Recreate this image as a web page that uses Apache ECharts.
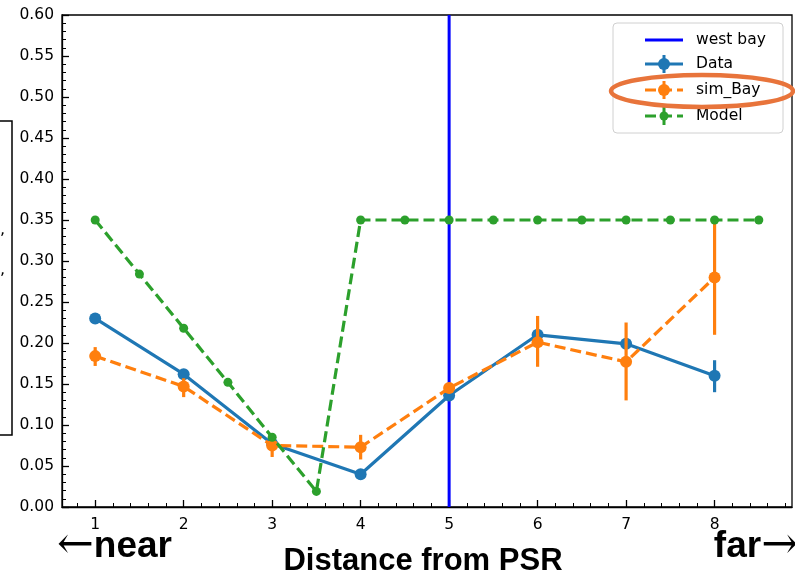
<!DOCTYPE html>
<html>
<head>
<meta charset="utf-8">
<script src="https://cdn.jsdelivr.net/npm/echarts@6/dist/echarts.min.js"></script>
<style>html,body{margin:0;padding:0;background:#fff}#c{width:795px;height:576px}</style>
</head>
<body>
<div id="c"></div>
<script>
// ---- data ----
const xMajorTicks = [1, 2, 3, 4, 5, 6, 7, 8];
const xMinorTicks = [0.8, 1.2, 1.4, 1.6, 1.8, 2.2, 2.4, 2.6, 2.8, 3.2, 3.4, 3.6, 3.8, 4.2, 4.4, 4.6, 4.8,
  5.2, 5.4, 5.6, 5.8, 6.2, 6.4, 6.6, 6.8, 7.2, 7.4, 7.6, 7.8, 8.2, 8.4, 8.6, 8.8];
const distances = [1, 2, 3, 4, 5, 6, 7, 8];
const dataValues = [0.230, 0.162, 0.077, 0.040, 0.136, 0.210, 0.199, 0.160];
const dataLow    = [0.226, 0.158, 0.073, 0.036, 0.132, 0.206, 0.195, 0.140];
const dataHigh   = [0.234, 0.166, 0.081, 0.044, 0.140, 0.214, 0.203, 0.179];
const simValues = [0.184, 0.147, 0.075, 0.073, 0.145, 0.201, 0.177, 0.280];
const simLow    = [0.172, 0.134, 0.061, 0.058, 0.141, 0.171, 0.130, 0.210];
const simHigh   = [0.195, 0.157, 0.083, 0.088, 0.149, 0.233, 0.225, 0.350];
const modelX      = [1, 1.5, 2, 2.5, 3, 3.5, 4, 4.5, 5, 5.5, 6, 6.5, 7, 7.5, 8, 8.5];
const modelValues = [0.350, 0.284, 0.218, 0.152, 0.085, 0.019, 0.350, 0.350, 0.350, 0.350, 0.350, 0.350, 0.350, 0.350, 0.350, 0.350];
const westBayX = 5;
const yRange = [0, 0.6];
const legendNames = ['west bay', 'Data', 'sim_Bay', 'Model'];

const C_DATA = '#1f77b4', C_SIM = '#ff7f0e', C_MODEL = '#2ca02c', C_WEST = '#0000ff';
const DASH = [11, 5];
const LW = 3.2;

function zip(xs, ys) { return xs.map((x, i) => [x, ys[i]]); }
function errSeries(name, xs, lo, hi, color, width, z) {
  return {
    type: 'custom', name: name, z: z, silent: true,
    data: xs.map((x, i) => [x, lo[i], hi[i]]),
    encode: { x: 0, y: [1, 2] },
    renderItem: function (p, api) {
      const a = api.coord([api.value(0), api.value(1)]);
      const b = api.coord([api.value(0), api.value(2)]);
      return { type: 'line', shape: { x1: a[0], y1: a[1], x2: b[0], y2: b[1] },
        style: { stroke: color, lineWidth: width } };
    }
  };
}

const chart = echarts.init(document.getElementById('c'), null, { renderer: 'canvas' });
const F = 'DejaVu Sans';
const gridBox = { left: 62, right: 3, top: 15, bottom: 69 };

// legend via graphics
const LX = 645, LTX = 696;
const legendRows = [40, 64, 90, 116];
function legLine(y, color, dash, marker, err) {
  const els = [{ type: 'line', shape: { x1: LX, y1: y, x2: LX + 38, y2: y },
    style: { stroke: color, lineWidth: LW, lineDash: dash } }];
  if (err) els.push({ type: 'line', shape: { x1: LX + 19, y1: y - 9, x2: LX + 19, y2: y + 9 }, style: { stroke: color, lineWidth: 3 } });
  if (marker) els.push({ type: 'circle', shape: { cx: LX + 19, cy: y, r: marker }, style: { fill: color } });
  return els;
}

const option = {
  animation: false,
  backgroundColor: '#fff',
  grid: [
    Object.assign({ show: true, borderColor: '#000', borderWidth: 1.3, backgroundColor: 'transparent' }, gridBox),
    Object.assign({ show: false }, gridBox)
  ],
  xAxis: [{
    type: 'value', gridIndex: 0, min: 0.625, max: 8.875,
    axisLine: { show: true, onZero: false, lineStyle: { color: '#000', width: 1.3 } },
    axisTick: { show: true, inside: true, length: 7, customValues: xMajorTicks, lineStyle: { color: '#000', width: 1.3 } },
    axisLabel: { show: true, customValues: xMajorTicks, color: '#000', fontSize: 15.5, fontFamily: F, margin: 10 },
    splitLine: { show: false }
  }, {
    type: 'value', gridIndex: 1, min: 0.625, max: 8.875,
    axisLine: { show: false },
    axisTick: { show: true, inside: true, length: 4, customValues: xMinorTicks, lineStyle: { color: '#000', width: 1 } },
    axisLabel: { show: false },
    splitLine: { show: false }
  }],
  yAxis: [{
    type: 'value', gridIndex: 0, min: yRange[0], max: yRange[1], interval: 0.05,
    axisLine: { show: true, onZero: false, lineStyle: { color: '#000', width: 1.3 } },
    axisTick: { show: true, inside: true, length: 7, lineStyle: { color: '#000', width: 1.3 } },
    minorTick: { show: true, splitNumber: 5, length: 4, lineStyle: { color: '#000', width: 1 } },
    axisLabel: { color: '#000', fontSize: 15.5, fontFamily: F, margin: 8, formatter: v => v.toFixed(2) },
    splitLine: { show: false }, minorSplitLine: { show: false }
  }, {
    type: 'value', gridIndex: 1, min: yRange[0], max: yRange[1], show: false
  }],
  series: [
    { name: legendNames[0], type: 'line', data: [[westBayX, yRange[0]], [westBayX, yRange[1]]], symbol: 'none',
      lineStyle: { color: C_WEST, width: 3 }, z: 2, silent: true },
    errSeries('Data err', distances, dataLow, dataHigh, C_DATA, 3.2, 3),
    { name: legendNames[1], type: 'line', data: zip(distances, dataValues), symbol: 'circle', symbolSize: 12,
      lineStyle: { color: C_DATA, width: LW }, itemStyle: { color: C_DATA }, z: 3, silent: true },
    errSeries('sim_Bay err', distances, simLow, simHigh, C_SIM, 3.2, 4),
    { name: legendNames[2], type: 'line', data: zip(distances, simValues), symbol: 'circle', symbolSize: 12,
      lineStyle: { color: C_SIM, width: LW, type: DASH }, itemStyle: { color: C_SIM }, z: 4, silent: true },
    { name: legendNames[3], type: 'line', data: zip(modelX, modelValues), symbol: 'circle', symbolSize: 9,
      lineStyle: { color: C_MODEL, width: LW, type: DASH }, itemStyle: { color: C_MODEL }, z: 5, silent: true }
  ],
  graphic: [
    // clipped box at left
    { type: 'rect', shape: { x: -10, y: 121, width: 22, height: 314 }, style: { fill: 'none', stroke: '#000', lineWidth: 1.5 }, z: 10 },
    { type: 'text', style: { x: 0, y: 222, text: ',', fontSize: 16, fontFamily: F, fill: '#000' }, z: 10 },
    { type: 'text', style: { x: 0, y: 262, text: ',', fontSize: 16, fontFamily: F, fill: '#000' }, z: 10 },
    // legend
    { type: 'group', z: 21, children: [].concat(
      [{ type: 'rect', shape: { x: 613, y: 23, width: 170, height: 110, r: 4 },
        style: { fill: 'rgba(255,255,255,0.85)', stroke: '#d0d0d0', lineWidth: 1 } }],
      legLine(legendRows[0], C_WEST, null, 0, false),
      legLine(legendRows[1], C_DATA, null, 6, true),
      legLine(legendRows[2], C_SIM, DASH, 6, true),
      legLine(legendRows[3], C_MODEL, DASH, 4.5, true),
      legendNames.map((t, i) => ({ type: 'text',
        style: { x: LTX, y: legendRows[i], text: t, fontSize: 15.5, fontFamily: F, fill: '#000', verticalAlign: 'middle' } }))
    ) },
    // highlight ellipse
    { type: 'ellipse', shape: { cx: 702, cy: 91, rx: 91, ry: 16 }, style: { fill: 'none', stroke: '#e8743b', lineWidth: 4.5 }, z: 30 },
    // axis title and near/far annotations
    { type: 'text', style: { x: 423, y: 561, text: 'Distance from PSR', fontSize: 31, fontWeight: 'bold', fontFamily: 'Liberation Sans',
      fill: '#000', align: 'center', verticalAlign: 'middle' } },
    { type: 'text', style: { x: 57, y: 547, text: '{a|←}{b|near}', verticalAlign: 'middle', align: 'left',
      rich: { a: { fontSize: 44, fontFamily: 'DejaVu Serif', fill: '#000' }, b: { fontSize: 37, fontWeight: 'bold', fontFamily: 'Liberation Sans', fill: '#000' } } } },
    { type: 'text', style: { x: 798, y: 547, text: '{b|far}{a|→}', verticalAlign: 'middle', align: 'right',
      rich: { a: { fontSize: 44, fontFamily: 'DejaVu Serif', fill: '#000' }, b: { fontSize: 37, fontWeight: 'bold', fontFamily: 'Liberation Sans', fill: '#000' } } } }
  ]
};
chart.setOption(option);
</script>
</body>
</html>
